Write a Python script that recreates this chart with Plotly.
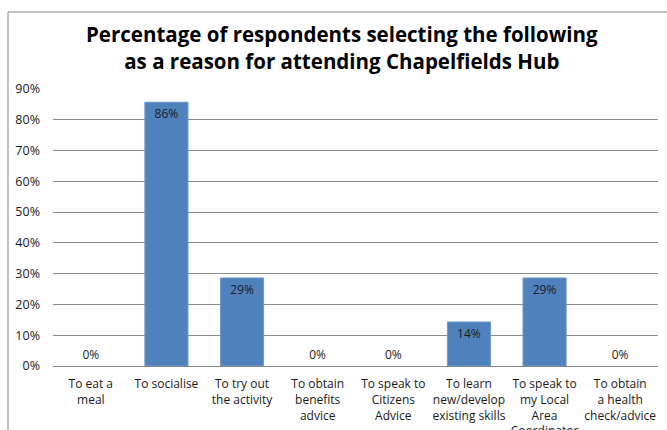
import plotly.graph_objects as go

categories = [
    "To eat a<br>meal",
    "To socialise",
    "To try out<br>the activity",
    "To obtain<br>benefits<br>advice",
    "To speak to<br>Citizens<br>Advice",
    "To learn<br>new/develop<br>existing skills",
    "To speak to<br>my Local<br>Area<br>Coordinator",
    "To obtain<br>a health<br>check/advice",
]
values = [0.0, 0.857, 0.286, 0.0, 0.0, 0.143, 0.286, 0.0]
labels = ["0%", "86%", "29%", "0%", "0%", "14%", "29%", "0%"]

FONT = "Open Sans, sans-serif"

W, H = 667, 430
L, R, T, B = 53, 9, 89, 64
pw, ph = W - L - R, H - T - B

def px_x(x):
    return (x - L) / pw

def px_y(y):
    return (H - B - y) / ph

fig = go.Figure()
fig.add_trace(go.Bar(
    x=list(range(len(categories))),
    y=values,
    text=labels,
    textposition=["outside" if v == 0 else "inside" for v in values],
    insidetextanchor="end",
    textfont=dict(family=FONT, size=12, color="#1a1a1a"),
    cliponaxis=False,
    marker=dict(color="#4F81BD",
                line=dict(color="#7097c9", width=[0 if v == 0 else 1 for v in values])),
    width=0.57,
    hoverinfo="skip",
))

fig.update_layout(
    width=W, height=H,
    margin=dict(l=L, r=R, t=T, b=B, autoexpand=False),
    paper_bgcolor="white",
    plot_bgcolor="white",
    showlegend=False,
    font=dict(family=FONT, size=12, color="#1a1a1a"),
    uniformtext=dict(minsize=12, mode="show"),
    xaxis=dict(
        tickmode="array",
        tickvals=list(range(len(categories))),
        ticktext=categories,
        range=[-0.5, len(categories) - 0.5],
        showline=True, linecolor="#868686", linewidth=1,
        showgrid=False, ticks="",
        automargin=False,
        ticklabelstandoff=7,
        tickfont=dict(family=FONT, size=12, color="#1a1a1a"),
        tickangle=0,
    ),
    yaxis=dict(
        range=[0, 0.9],
        dtick=0.1,
        tickformat=".0%",
        showgrid=True, gridcolor="#8c8c8c", gridwidth=1,
        zeroline=False, showline=False, ticks="",
        automargin=False,
        ticklabelstandoff=12,
        tickfont=dict(family=FONT, size=12.5, color="#1a1a1a"),
    ),
    shapes=[dict(
        type="rect", xref="paper", yref="paper",
        x0=px_x(8), x1=px_x(700), y0=px_y(460), y1=px_y(12),
        line=dict(color="#868686", width=1), fillcolor="rgba(0,0,0,0)",
        layer="below",
    )],
    annotations=[dict(
        xref="paper", yref="paper",
        x=px_x(342), y=px_y(48),
        text="<b>Percentage of respondents selecting the following<br>as a reason for attending Chapelfields Hub</b>",
        showarrow=False, xanchor="center", yanchor="middle",
        font=dict(family=FONT, size=20.5, color="#000000"),
    )],
)

fig.write_html("out.html")
